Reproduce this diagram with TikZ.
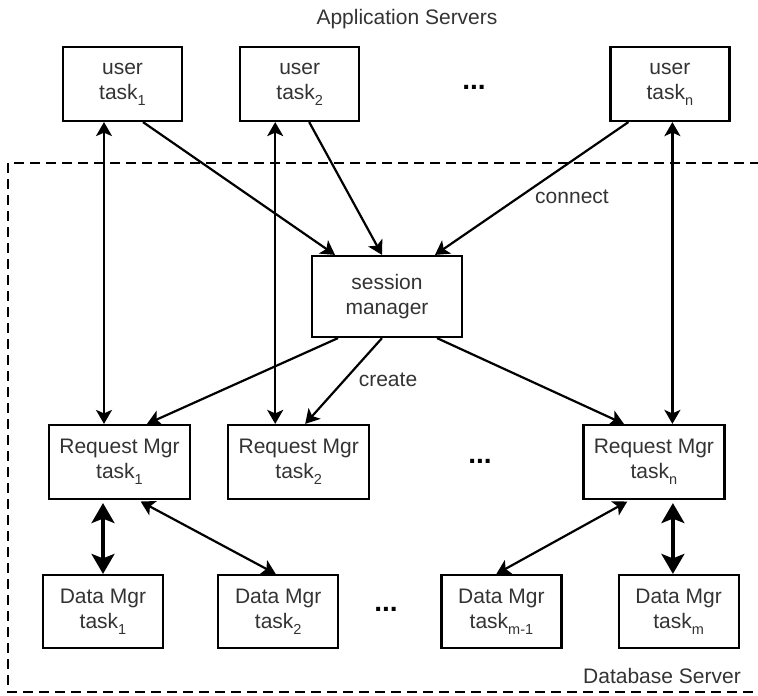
\documentclass[tikz,border=0pt]{standalone}
\usepackage{fontspec}
\setmainfont{Liberation Sans}
\usetikzlibrary{arrows.meta, positioning}
\newcommand\dssub[1]{\raisebox{-6pt}{\fontsize{14.5}{15}\selectfont #1}}
\tikzset{
  dsbox/.style   = {rectangle, draw=black, line width=2.2pt, align=center,
                    text=black!80, font=\fontsize{21}{25}\selectfont,
                    inner sep=0pt},
  dsuser/.style  = {dsbox, minimum width=119pt, minimum height=74pt},
  dssess/.style  = {dsbox, minimum width=150pt, minimum height=81pt},
  dsreq/.style   = {dsbox, minimum width=141pt, minimum height=74pt},
  dsdata/.style  = {dsbox, minimum width=120pt, minimum height=73pt},
  dsarrow/.style = {-{Stealth[length=14pt, width=16pt, inset=3.5pt]},
                    line width=2.2pt},
  dsboth/.style  = {{Stealth[length=14pt, width=16pt, inset=3.5pt]}-{Stealth[length=14pt, width=16pt, inset=3.5pt]},
                    line width=2.2pt},
  dsthick/.style = {{Stealth[length=20pt, width=23pt, inset=4.5pt]}-{Stealth[length=20pt, width=23pt, inset=4.5pt]},
                    line width=3.2pt},
  dsframe/.style = {line width=2.2pt, dash pattern=on 10pt off 6pt},
  dslab/.style   = {font=\fontsize{21}{25}\selectfont, text=black!80,
                    inner sep=0pt},
  dsdots/.style  = {font=\fontsize{28}{30}\selectfont\bfseries, inner sep=0pt},
}
\begin{document}
\begin{tikzpicture}[x=1pt, y=-1pt, node distance=36pt]
  \useasboundingbox (0,0) rectangle (758,696);
  \draw[dsframe] (760,163) -| (8,692) -- (760,692);

  \node[dslab, anchor=base] (app) at (407,24) {Application Servers};
  \node[dslab, anchor=base] (db) at (662,683) {Database Server};

  \node[dsuser] (u1) at (122.5,84) {user\\task\dssub{1}};
  \node[dsuser, right=56pt of u1] (u2) {user\\task\dssub{2}};
  \node[dsuser, right=249pt of u2] (un) {user\\task\dssub{n}};
  \node[dsdots] (udots) at (474,87) {...};

  \node[dssess] (sm) at (387,296.5) {session\\manager};

  \node[dsreq] (rm1) at (119.5,462) {Request Mgr\\task\dssub{1}};
  \node[dsreq, right=of rm1] (rm2) {Request Mgr\\task\dssub{2}};
  \node[dsreq, right=212pt of rm2] (rmn) {Request Mgr\\task\dssub{n}};
  \node[dsdots] (rdots) at (480,461) {...};

  \node[dsdata] (dm1) at (103,611.5) {Data Mgr\\task\dssub{1}};
  \node[dsdata, right=53pt of dm1] (dm2) {Data Mgr\\task\dssub{2}};
  \node[dsdata, right=101pt of dm2] (dmm1) {Data Mgr\\task\dssub{m-1}};
  \node[dsdata, right=55pt of dmm1] (dmm) {Data Mgr\\task\dssub{m}};
  \node[dsdots] (ddots) at (386,609.5) {...};

  \node[dslab, anchor=base] (conn) at (572,203) {connect};
  \node[dslab, anchor=base] (crt) at (388,386) {create};

  \draw[dsboth] ([xshift=-18.5pt]u1.south) -- ([xshift=-18.5pt]u1.south |- rm1.north);
  \draw[dsboth] ([xshift=-24.5pt]u2.south) -- ([xshift=-24.5pt]u2.south |- rm2.north);
  \draw[dsboth] ([xshift=2.5pt]un.south) -- ([xshift=2.5pt]un.south |- rmn.north);

  \draw[dsarrow] ([xshift=20.5pt]u1.south) -- ([xshift=-52pt]sm.north);
  \draw[dsarrow] ([xshift=9.5pt]u2.south) -- ([xshift=-5pt]sm.north);
  \draw[dsarrow] ([xshift=-41.5pt]un.south) -- ([xshift=48pt]sm.north);

  \draw[dsarrow] ([xshift=-49pt]sm.south) -- ([xshift=27.5pt]rm1.north);
  \draw[dsarrow] ([xshift=-5pt]sm.south) -- ([xshift=6.5pt]rm2.north);
  \draw[dsarrow] ([xshift=50pt]sm.south) -- ([xshift=-30pt]rmn.north);

  \draw[dsthick, shorten <=3pt] ([xshift=-16.5pt]rm1.south) -- ([xshift=-16.5pt]rm1.south |- dm1.north);
  \draw[dsboth, shorten <=3pt] ([xshift=18.5pt]rm1.south) -- ([xshift=-2.5pt]dm2.north);
  \draw[dsboth, shorten <=3pt] ([xshift=-24pt]rmn.south) -- ([xshift=-5pt]dmm1.north);
  \draw[dsthick, shorten <=3pt] ([xshift=19pt]rmn.south) -- ([xshift=19pt]rmn.south |- dmm.north);
\end{tikzpicture}
\end{document}
